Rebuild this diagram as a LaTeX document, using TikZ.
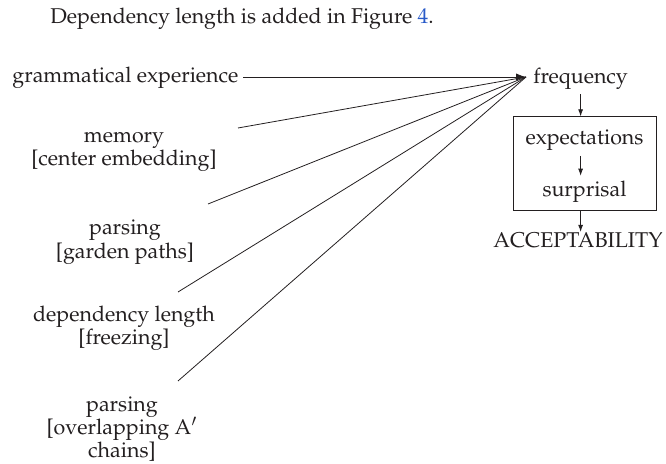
\documentclass[tikz,border=0pt]{standalone}
\usepackage[T1]{fontenc}
\usepackage{mathpazo}
\usetikzlibrary{arrows.meta}
\definecolor{linkblue}{RGB}{40,90,200}
\definecolor{ink}{RGB}{35,31,32}
\begin{document}
\begin{tikzpicture}[x=0.5pt,y=-0.5pt,
  every node/.style={font=\fontsize{10.7}{11.7}\selectfont, inner sep=0pt, text=ink},
  lbl/.style={align=center},
  conn/.style={line width=0.4pt, draw=ink},
  bigtip/.style={-{Latex[length=5pt,width=3.6pt]}},
  smalltip/.style={-{Latex[length=3.6pt,width=2.5pt]}, line width=0.4pt, draw=ink},
  boxstyle/.style={draw=ink, line width=0.5pt, minimum width=71.5pt, minimum height=47pt}]
\useasboundingbox (0,0) rectangle (666,464);
% top caption line
\node[anchor=west] (top) at (50,19) {Dependency length is added in Figure \textcolor{linkblue}{4}.};
% left factors
\node[anchor=west] (ge) at (12,78) {grammatical experience};
\node[lbl] (mem) at (124,152) {memory\\{}[center embedding]};
\node[lbl] (gp) at (125,242) {parsing\\{}[garden paths]};
\node[lbl] (dl) at (124,328) {dependency length\\{}[freezing]};
\node[lbl] (ov) at (122,429) {parsing\\{}[overlapping A$'$\\chains]};
% right column
\node[anchor=west] (freq) at (533,79) {frequency};
\node[boxstyle] (box) at (584.5,164) {};
\node (exp) at (584.5,140) {expectations};
\node (sur) at (584.5,192) {surprisal};
\node[anchor=north] (acc) at (578,232) {ACCEPTABILITY};
% converging lines
\coordinate (tip) at (526,77);
\coordinate (s1) at (243,77);
\coordinate (s2) at (238,128);
\coordinate (s3) at (208,204);
\coordinate (s4) at (178,292);
\coordinate (s5) at (178,381);
\draw[conn] (s2) -- (tip);
\draw[conn] (s3) -- (tip);
\draw[conn] (s4) -- (tip);
\draw[conn] (s5) -- (tip);
\draw[conn,bigtip] (s1) -- (tip);
% vertical arrows
\draw[smalltip, shorten <=2pt] (freq.south) -- (freq.south |- box.north);
\draw[smalltip, shorten <=2.5pt, shorten >=2.5pt] (exp.south -| freq.south) -- (sur.north -| freq.south);
\draw[smalltip] (box.south -| freq.south) -- (acc.north -| freq.south);
\end{tikzpicture}
\end{document}
